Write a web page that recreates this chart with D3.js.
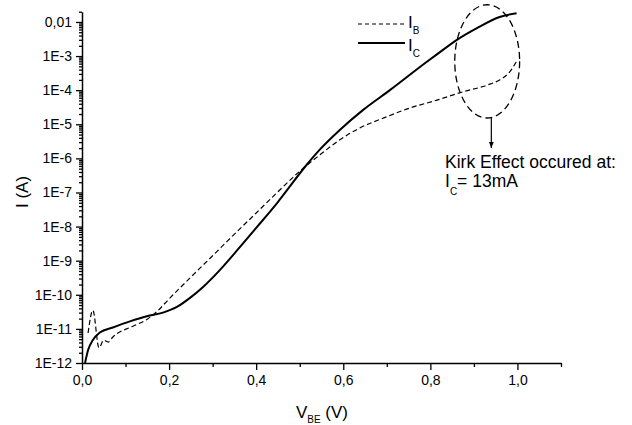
<!DOCTYPE html>
<html>
<head>
<meta charset="utf-8">
<script src="https://cdn.jsdelivr.net/npm/d3@7"></script>
<style>
body { margin: 0; background: #fff; }
svg { display: block; font-family: "Liberation Sans", Arial, sans-serif; }
</style>
</head>
<body>
<svg id="chart" width="632" height="425"></svg>
<script>
// values: V_BE in volts, currents in amps
const vbeB = [0.014, 0.025, 0.039, 0.050, 0.060, 0.071, 0.117, 0.149, 0.175, 0.200, 0.250, 0.300, 0.350, 0.400,
              0.450, 0.500, 0.546, 0.592, 0.638, 0.691, 0.753, 0.815, 0.874, 0.930, 0.959, 0.982, 1.000];
const ib = [7.6e-12, 3.5e-11, 2.8e-12, 4.7e-12, 4.1e-12, 5.8e-12, 1.2e-11, 1.9e-11, 3.5e-11, 7.6e-11, 3.3e-10, 1.4e-9, 6.0e-9, 2.5e-8,
            1.05e-7, 4.2e-7, 1.26e-6, 3.5e-6, 7.8e-6, 1.5e-5, 3.0e-5, 5.1e-5, 8.9e-5, 1.4e-4, 2.0e-4, 3.4e-4, 7.8e-4];

const vbeC = [0.007, 0.014, 0.025, 0.041, 0.071, 0.110, 0.149, 0.186, 0.218, 0.248, 0.278, 0.317, 0.356, 0.402,
              0.448, 0.516, 0.546, 0.592, 0.645, 0.707, 0.792, 0.815, 0.861, 0.907, 0.959, 0.998];
const ic = [1.0e-12, 2.4e-12, 4.7e-12, 7.8e-12, 1.1e-11, 1.66e-11, 2.35e-11, 3.0e-11, 4.4e-11, 8.1e-11, 1.7e-10, 5.4e-10, 2.0e-9, 9.8e-9,
            4.9e-8, 6.5e-7, 1.8e-6, 6.8e-6, 2.6e-5, 1.0e-4, 6.8e-4, 1.12e-3, 3.0e-3, 6.6e-3, 1.4e-2, 1.8e-2];

const xTicks = [0, 0.2, 0.4, 0.6, 0.8, 1.0];
const xTickLabels = ["0,0", "0,2", "0,4", "0,6", "0,8", "1,0"];
const xMinor = [0.1, 0.3, 0.5, 0.7, 0.9, 1.1];
const yTicks = [1e-12, 1e-11, 1e-10, 1e-9, 1e-8, 1e-7, 1e-6, 1e-5, 1e-4, 1e-3, 1e-2];
const yTickLabels = ["1E-12", "1E-11", "1E-10", "1E-9", "1E-8", "1E-7", "1E-6", "1E-5", "1E-4", "1E-3", "0,01"];

const svg = d3.select("#chart");

const x = d3.scaleLinear().domain([0, 1.1]).range([82, 561]);
const y = d3.scaleLog().domain([1e-12, 0.02]).range([363, 11.7]);

// minor log ticks 2..9 in each decade
const yMinor = [];
yTicks.forEach(t => { for (let k = 2; k <= 9; k++) if (t * k <= 0.0201) yMinor.push(t * k); });

// x axis
svg.append("g")
    .attr("transform", "translate(0,363)")
    .call(d3.axisBottom(x).tickValues(xMinor).tickSize(4).tickSizeOuter(0).tickFormat(""))
    .call(g => g.select(".domain").remove());
const xAxis = svg.append("g")
    .attr("transform", "translate(0,363)")
    .call(d3.axisBottom(x).tickValues(xTicks).tickSize(7).tickSizeOuter(0)
        .tickFormat((d, i) => xTickLabels[i]).tickPadding(5));
xAxis.selectAll("text").attr("font-size", 14).attr("font-family", "Liberation Sans, Arial").attr("fill", "#000");

// y axis
svg.append("g")
    .attr("transform", "translate(82,0)")
    .call(d3.axisLeft(y).tickValues(yMinor).tickSize(3).tickSizeOuter(0).tickFormat(""))
    .call(g => g.select(".domain").remove());
const yAxis = svg.append("g")
    .attr("transform", "translate(82,0)")
    .call(d3.axisLeft(y).tickValues(yTicks).tickSize(6).tickSizeOuter(0)
        .tickFormat((d, i) => yTickLabels[i]).tickPadding(4));
yAxis.selectAll("text").attr("font-size", 14).attr("font-family", "Liberation Sans, Arial").attr("fill", "#000");

svg.selectAll(".domain").attr("stroke", "#000").attr("stroke-width", 1.5);
svg.selectAll(".tick line").attr("stroke", "#000").attr("stroke-width", 1.3);

// axis titles
const xt = svg.append("text")
    .attr("x", 322).attr("y", 418)
    .attr("text-anchor", "middle").attr("font-size", 17);
xt.append("tspan").text("V");
xt.append("tspan").attr("font-size", 10).attr("dy", 5).text("BE");
xt.append("tspan").attr("dy", -5).text(" (V)");

svg.append("text")
    .attr("transform", "translate(28,192) rotate(-90)")
    .attr("text-anchor", "middle").attr("font-size", 17)
    .text("I (A)");

// curves
const line = d3.line()
    .x(d => x(d[0]))
    .y(d => y(d[1]))
    .curve(d3.curveMonotoneX);

svg.append("path")
    .datum(vbeB.map((v, i) => [v, ib[i]]))
    .attr("d", line)
    .attr("fill", "none")
    .attr("stroke", "#000")
    .attr("stroke-width", 1.2)
    .attr("stroke-dasharray", "5,3");

svg.append("path")
    .datum(vbeC.map((v, i) => [v, ic[i]]))
    .attr("d", line)
    .attr("fill", "none")
    .attr("stroke", "#000")
    .attr("stroke-width", 2);

// legend
svg.append("line").attr("x1", 358).attr("x2", 405).attr("y1", 24).attr("y2", 24)
    .attr("stroke", "#000").attr("stroke-width", 1.2).attr("stroke-dasharray", "4,3");
svg.append("line").attr("x1", 358).attr("x2", 405).attr("y1", 43).attr("y2", 43)
    .attr("stroke", "#000").attr("stroke-width", 2);
const lb = svg.append("text").attr("x", 408).attr("y", 28).attr("font-size", 17).attr("fill", "#000");
lb.append("tspan").text("I");
lb.append("tspan").attr("font-size", 10).attr("dy", 6).text("B");
const lc = svg.append("text").attr("x", 408).attr("y", 51).attr("font-size", 17).attr("fill", "#000");
lc.append("tspan").text("I");
lc.append("tspan").attr("font-size", 10).attr("dy", 6).text("C");

// Kirk effect annotation
const eL = x(0.856), eR = x(1.005), eT = y(3.2e-2), eB = y(1.53e-5);
svg.append("ellipse")
    .attr("cx", (eL + eR) / 2).attr("cy", (eT + eB) / 2)
    .attr("rx", (eR - eL) / 2).attr("ry", (eB - eT) / 2)
    .attr("fill", "none").attr("stroke", "#000")
    .attr("stroke-width", 1.3).attr("stroke-dasharray", "7,4");

svg.append("defs").append("marker")
    .attr("id", "arrow")
    .attr("viewBox", "0 -5 10 10")
    .attr("refX", 10).attr("refY", 0)
    .attr("markerWidth", 5).attr("markerHeight", 5)
    .attr("orient", "auto")
    .append("path").attr("d", "M0,-4L10,0L0,4Z").attr("fill", "#000");

svg.append("line")
    .attr("x1", x(0.94)).attr("x2", x(0.94))
    .attr("y1", eB).attr("y2", 148)
    .attr("stroke", "#000").attr("stroke-width", 1.2)
    .attr("marker-end", "url(#arrow)");

svg.append("text").attr("x", 445).attr("y", 168).attr("font-size", 17.5)
    .text("Kirk Effect occured at:");
const k2 = svg.append("text").attr("x", 445).attr("y", 187).attr("font-size", 17.5);
k2.append("tspan").text("I");
k2.append("tspan").attr("font-size", 10).attr("dy", 8).text("C");
k2.append("tspan").attr("dy", -8).text("= 13mA");
</script>
</body>
</html>
